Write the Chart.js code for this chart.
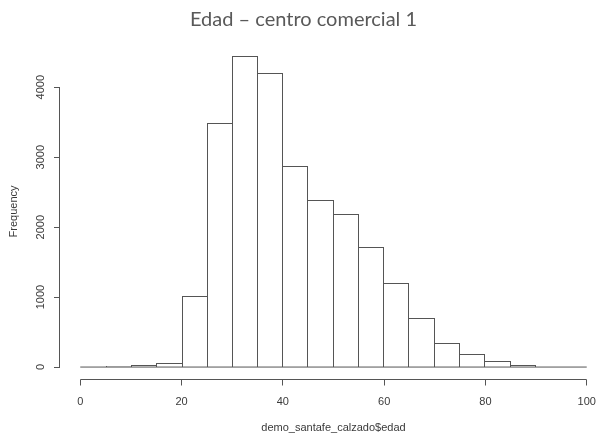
<!DOCTYPE html>
<html><head><meta charset="utf-8">
<script src="https://cdn.jsdelivr.net/npm/chart.js@4/dist/chart.umd.min.js"></script>
<style>
html,body{margin:0;padding:0;overflow:hidden;background:#fff;width:603px;height:436px}
#wrap{position:absolute;left:0;top:0;width:607px;height:436px}
</style>
</head><body><div id="wrap"><canvas id="c"></canvas></div>
<script>
// ---- data ----
const binEdges = [0,5,10,15,20,25,30,35,40,45,50,55,60,65,70,75,80,85,90,95,100];
const counts   = [0,8,25,60,1010,3490,4450,4200,2870,2390,2190,1715,1200,695,350,185,85,35,3,1];
const xTicks = [0,20,40,60,80,100];
const yTicks = [0,1000,2000,3000,4000];
const titleText = 'Edad – centro comercial 1';
const xTitle = 'demo_santafe_calzado$edad';
const yTitle = 'Frequency';

// ---- styling ----
const LINE = '#555';
const TEXT = '#3a3a3a';
const AXFONT = {family:'"Liberation Sans", Arial, sans-serif', size:11};

const centers = counts.map((c,i)=>({x:(binEdges[i]+binEdges[i+1])/2, y:c}));
const baseLine = [{x:binEdges[0],y:0},{x:binEdges[binEdges.length-1],y:0}];
const xr = binEdges[binEdges.length-1]-binEdges[0];
const yMaxC = Math.max(...counts);

// snap bar edges to whole pixels for crisp 1px outlines
const snapBars = {
  id:'snapBars',
  beforeDatasetsDraw(chart){
    chart.data.datasets.forEach((ds,di)=>{
      const meta = chart.getDatasetMeta(di);
      if (meta.type !== 'bar') return;
      meta.data.forEach(el=>{
        const l = Math.round(el.x - el.width/2), r = Math.round(el.x + el.width/2);
        el.x = (l+r)/2; el.width = r-l;
        el.y = Math.round(el.y); el.base = Math.round(el.base);
      });
    });
  }
};

const rAxes = {
  id:'rAxes',
  afterDraw(chart){
    const {ctx, chartArea, scales:{x,y}} = chart;
    ctx.save();
    ctx.strokeStyle = LINE; ctx.lineWidth = 1;
    ctx.beginPath();
    const ax = Math.round(chartArea.left) - 0.5;
    ctx.moveTo(ax, y.getPixelForValue(yTicks[0]));
    ctx.lineTo(ax, y.getPixelForValue(yTicks[yTicks.length-1]));
    const by = Math.floor(chartArea.bottom) + 0.5;
    ctx.moveTo(x.getPixelForValue(xTicks[0]), by);
    ctx.lineTo(x.getPixelForValue(xTicks[xTicks.length-1]), by);
    ctx.stroke();
    ctx.restore();
  }
};

new Chart(document.getElementById('c'), {
  type:'bar',
  data:{
    datasets:[
      {
        type:'line', data:baseLine, borderColor:LINE, borderWidth:1,
        pointRadius:0, order:0, tension:0
      },
      {
        type:'bar', data:centers, order:1,
        backgroundColor:'#fff', borderColor:LINE,
        barPercentage:1, categoryPercentage:1, inflateAmount:0,
        borderSkipped:'start',
        borderWidth:(ctx)=>{
          const i = ctx.dataIndex, v = counts[i];
          const p = i>0 ? counts[i-1] : 0;
          const n = i<counts.length-1 ? counts[i+1] : 0;
          return {top:1, left: v>=p?1:0, right: v>n?1:0, bottom:0};
        }
      }
    ]
  },
  options:{
    responsive:true, maintainAspectRatio:false, animation:false,
    layout:{padding:0},
    plugins:{
      legend:{display:false}, tooltip:{enabled:false},
      title:{display:true, text:titleText, color:'#595959',
        font:{family:'Lato, "Noto Sans", sans-serif', size:20, weight:'normal'},
        padding:{top:7.5, bottom:11.8}}
    },
    scales:{
      x:{
        type:'linear', offset:false,
        min: binEdges[0]-0.04*xr, max: binEdges[binEdges.length-1]+0.04*xr,
        afterBuildTicks:(s)=>{ s.ticks = xTicks.map(v=>({value:v})); },
        afterFit:(s)=>{ s.height = 56.5; },
        border:{display:false},
        grid:{offset:false, drawOnChartArea:false, drawTicks:true, tickLength:6, color:LINE, lineWidth:1},
        ticks:{color:TEXT, font:AXFONT, padding:10, maxRotation:0, autoSkip:false, callback:(v)=>String(v)},
        title:{display:true, text:xTitle, color:TEXT, font:AXFONT, padding:{top:0,bottom:1.5}}
      },
      y:{
        type:'linear',
        min:-0.04*yMaxC, max:1.04*yMaxC,
        afterBuildTicks:(s)=>{ s.ticks = yTicks.map(v=>({value:v})); },
        afterFit:(s)=>{ s.width = 60; },
        border:{display:false},
        grid:{drawOnChartArea:false, drawTicks:true, tickLength:6, color:LINE, lineWidth:1},
        ticks:{color:TEXT, font:AXFONT, padding:0.5, minRotation:90, maxRotation:90, crossAlign:'center', autoSkip:false, callback:(v)=>String(v)},
        title:{display:true, text:yTitle, color:TEXT, font:AXFONT, padding:{top:7,bottom:0}}
      }
    }
  },
  plugins:[snapBars, rAxes]
});
</script>
</body></html>
